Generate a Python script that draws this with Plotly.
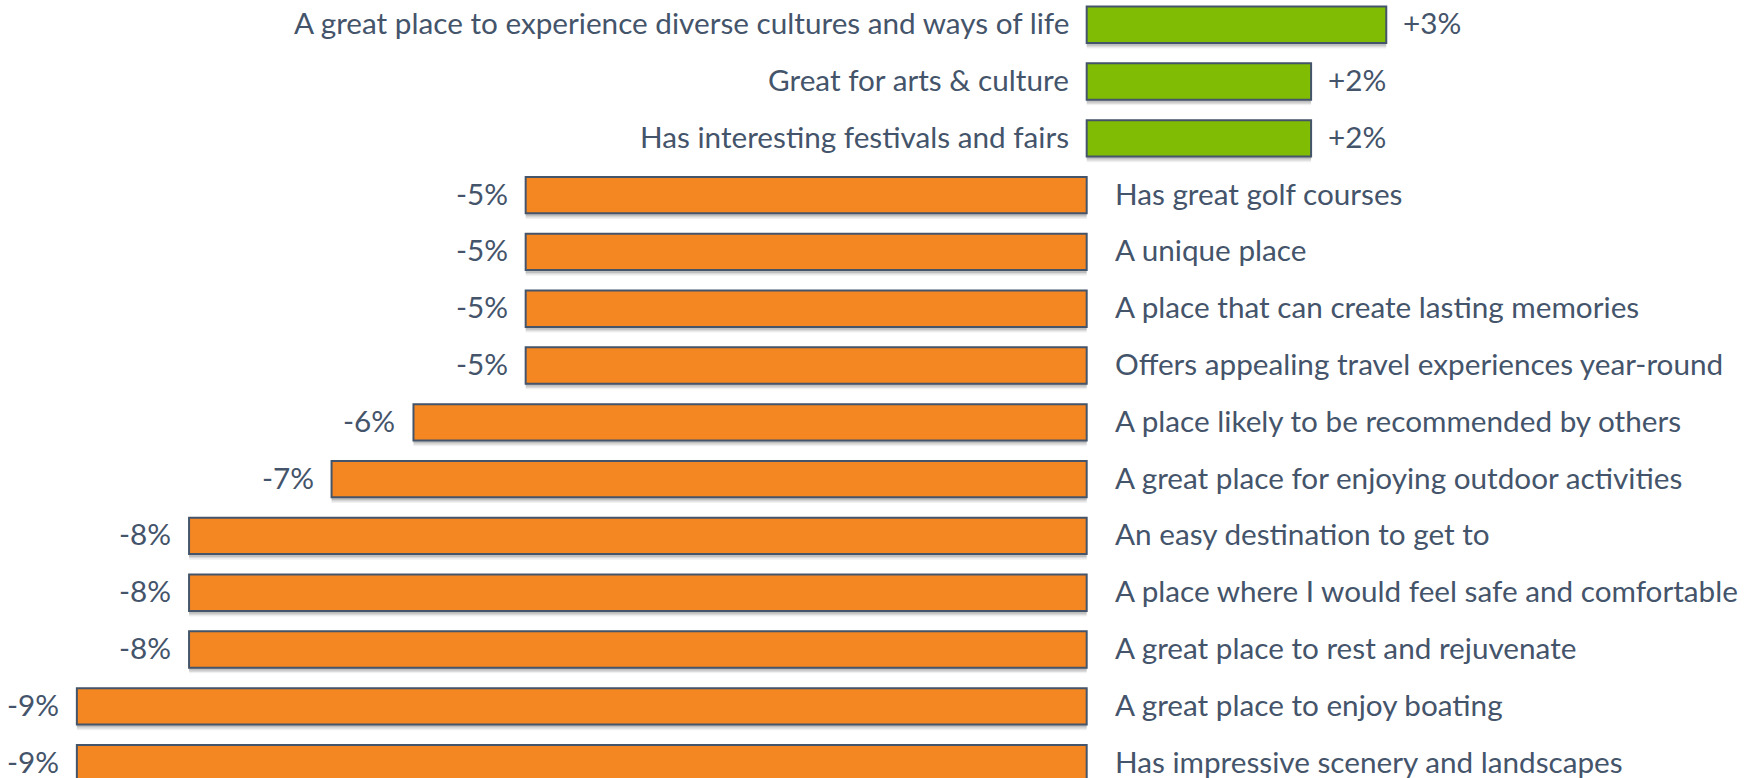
import plotly.graph_objects as go

categories = [
    "A great place to experience diverse cultures and ways of life",
    "Great for arts & culture",
    "Has interesting festivals and fairs",
    "Has great golf courses",
    "A unique place",
    "A place that can create lasting memories",
    "Offers appealing travel experiences year-round",
    "A place likely to be recommended by others",
    "A great place for enjoying outdoor activities",
    "An easy destination to get to",
    "A place where I would feel safe and comfortable",
    "A great place to rest and rejuvenate",
    "A great place to enjoy boating",
    "Has impressive scenery and landscapes",
]
values = [2.67, 2.0, 2.0, -5.0, -5.0, -5.0, -5.0, -6.0, -6.73, -8.0, -8.0, -8.0, -9.0, -9.0]
value_labels = ["+3%", "+2%", "+2%", "-5%", "-5%", "-5%", "-5%", "-6%", "-7%",
                "-8%", "-8%", "-8%", "-9%", "-9%"]

GREEN = "#7FBC03"
ORANGE = "#F58722"
EDGE = "#44546A"
TEXT = "#44546A"
FONT = "Lato"
FSIZE = 29.7

rows = list(range(len(categories)))
colors = [GREEN if v > 0 else ORANGE for v in values]

fig = go.Figure()

# soft drop shadow layers
for off, alpha in [(0.10, 0.06), (0.075, 0.09), (0.05, 0.12)]:
    fig.add_trace(go.Bar(
        x=values, y=[r + off for r in rows], orientation="h", width=0.64,
        marker=dict(color=f"rgba(0,0,0,{alpha})", line=dict(width=0)),
        hoverinfo="skip", showlegend=False,
    ))

fig.add_trace(go.Bar(
    x=values, y=rows, orientation="h", width=0.64,
    marker=dict(color=colors, line=dict(color=EDGE, width=2)),
    showlegend=False,
))

annotations = []
for r, cat, v, lab in zip(rows, categories, values, value_labels):
    if v > 0:
        annotations.append(dict(x=0, y=r, text=cat, xanchor="right", xshift=-16, yshift=2,
                                showarrow=False, yanchor="middle"))
        annotations.append(dict(x=v, y=r, text=lab, xanchor="left", xshift=15, yshift=2,
                                showarrow=False, yanchor="middle"))
    else:
        annotations.append(dict(x=0, y=r, text=cat, xanchor="left", xshift=26, yshift=2,
                                showarrow=False, yanchor="middle"))
        annotations.append(dict(x=v, y=r, text=lab, xanchor="right", xshift=-16, yshift=2,
                                showarrow=False, yanchor="middle"))

fig.update_layout(
    width=1758, height=778,
    margin=dict(l=0, r=0, t=0, b=0),
    paper_bgcolor="white", plot_bgcolor="white",
    barmode="overlay",
    font=dict(family=FONT, size=FSIZE, color=TEXT),
    annotations=annotations,
    xaxis=dict(range=[-9.685, 5.983], visible=False, fixedrange=True),
    yaxis=dict(range=[13.262, -0.435], visible=False, fixedrange=True),
)

fig.write_html("out.html",
               config={"displayModeBar": False},
               post_script="document.body.style.margin='0';document.body.style.overflow='hidden';")
